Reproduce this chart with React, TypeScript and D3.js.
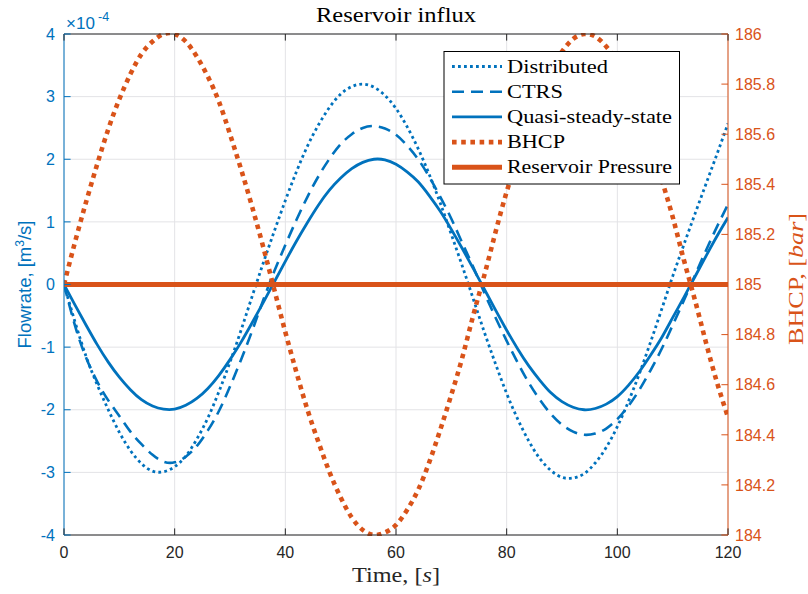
import React from 'react';
import * as d3 from 'd3';

// ---- data ----
const timeS = [0, 2, 4, 6, 8, 10, 12, 14, 16, 18, 20, 22, 24, 26, 28, 30, 32, 34, 36, 38, 40,
  42, 44, 46, 48, 50, 52, 54, 56, 58, 60, 62, 64, 66, 68, 70, 72, 74, 76, 78, 80,
  82, 84, 86, 88, 90, 92, 94, 96, 98, 100, 102, 104, 106, 108, 110, 112, 114, 116, 118, 120];

// flow rates in units of 1e-4 m^3/s
const distributed = [0, -0.6, -1.15, -1.6, -2.0, -2.36, -2.65, -2.86, -2.98, -2.99, -2.91,
  -2.74, -2.47, -2.13, -1.71, -1.24, -0.73, -0.19, 0.34, 0.85, 1.34,
  1.8, 2.21, 2.55, 2.83, 3.04, 3.16, 3.2, 3.15, 3.02, 2.81,
  2.52, 2.17, 1.76, 1.3, 0.8, 0.29, -0.24, -0.77, -1.27, -1.74,
  -2.15, -2.5, -2.78, -2.97, -3.08, -3.09, -3.02, -2.85, -2.6, -2.27,
  -1.87, -1.42, -0.92, -0.4, 0.13, 0.63, 1.12, 1.6, 2.08, 2.57];

const ctrs = [0, -0.66, -1.17, -1.55, -1.85, -2.1, -2.35, -2.55, -2.72, -2.83, -2.84,
  -2.75, -2.58, -2.33, -2.02, -1.63, -1.2, -0.74, -0.25, 0.21, 0.63,
  1.03, 1.4, 1.73, 2.01, 2.24, 2.4, 2.5, 2.53, 2.49, 2.39,
  2.22, 2.0, 1.72, 1.4, 1.05, 0.66, 0.27, -0.14, -0.53, -0.9,
  -1.25, -1.57, -1.84, -2.07, -2.24, -2.35, -2.4, -2.38, -2.3, -2.15,
  -1.94, -1.68, -1.37, -1.03, -0.65, -0.26, 0.14, 0.54, 0.92, 1.28];

const quasiSteady = [0, -0.33, -0.65, -0.96, -1.24, -1.48, -1.68, -1.84, -1.94, -1.99, -1.99,
  -1.93, -1.82, -1.66, -1.45, -1.2, -0.92, -0.61, -0.29, 0.04, 0.37,
  0.69, 0.99, 1.27, 1.51, 1.7, 1.85, 1.95, 2.0, 1.99, 1.92,
  1.8, 1.64, 1.42, 1.17, 0.88, 0.57, 0.25, -0.08, -0.41, -0.73,
  -1.03, -1.3, -1.53, -1.73, -1.87, -1.96, -2.0, -1.98, -1.91, -1.79,
  -1.61, -1.39, -1.13, -0.85, -0.53, -0.21, 0.12, 0.45, 0.77, 1.07];

// bottom-hole circulating pressure, bar
const bhcp = [185.0, 185.17, 185.33, 185.48, 185.62, 185.74, 185.84, 185.92, 185.97, 186.0, 186.0,
  185.97, 185.91, 185.83, 185.73, 185.6, 185.46, 185.31, 185.15, 184.98, 184.81,
  184.65, 184.5, 184.37, 184.25, 184.15, 184.07, 184.02, 184.0, 184.01, 184.04,
  184.1, 184.18, 184.29, 184.42, 184.56, 184.71, 184.88, 185.04, 185.21, 185.37,
  185.51, 185.65, 185.77, 185.86, 185.93, 185.98, 186.0, 185.99, 185.95, 185.89,
  185.81, 185.7, 185.57, 185.42, 185.27, 185.1, 184.94, 184.77, 184.61, 184.47];

const reservoirTime = [0, 120];
const reservoirPressure = [185, 185];

const xTicks = [0, 20, 40, 60, 80, 100, 120];
const leftTicks = [-4, -3, -2, -1, 0, 1, 2, 3, 4];
const rightTicks = [184, 184.2, 184.4, 184.6, 184.8, 185, 185.2, 185.4, 185.6, 185.8, 186];
const rightTickLabels = ['184', '184.2', '184.4', '184.6', '184.8', '185', '185.2', '185.4', '185.6', '185.8', '186'];
const legendLabels = ['Distributed', 'CTRS', 'Quasi-steady-state', 'BHCP', 'Reservoir Pressure'];

const BLUE = '#0072BD';
const ORANGE = '#D95319';
const DARK = '#262626';
const GRID = '#e3e3e6';
const SANS = '"Liberation Sans", Arial, Helvetica, sans-serif';
const SERIF = '"Liberation Serif", "Times New Roman", serif';

export default function App() {
  const W = 808, H = 594;
  const L = 64, R = 728, T = 34, B = 535;
  const x = d3.scaleLinear().domain([0, 120]).range([L, R]);
  const yL = d3.scaleLinear().domain([-4, 4]).range([B, T]);
  const yR = d3.scaleLinear().domain([184, 186]).range([B, T]);

  const lineL = d3.line<number>().x((_, i) => x(timeS[i])).y(d => yL(d)).curve(d3.curveNatural);
  const lineR = d3.line<number>().x((_, i) => x(timeS[i])).y(d => yR(d)).curve(d3.curveNatural);
  const lineRes = d3.line<number>().x((_, i) => x(reservoirTime[i])).y(d => yR(d));

  const styles = [
    { color: BLUE, width: 2.8, dash: '2.8 3.2' },
    { color: BLUE, width: 2.6, dash: '12 7' },
    { color: BLUE, width: 2.8, dash: undefined },
    { color: ORANGE, width: 4.6, dash: '4.6 4.6' },
    { color: ORANGE, width: 5, dash: undefined },
  ];

  const tickLen = 6.6;
  const legX = 444, legY = 51.5, legW = 235.5, legH = 132.5;
  const rowY = (i: number) => 66.5 + i * 25.2;
  const legTextLen = [101, 56, 165, 58, 165];

  return (
    <svg width={W} height={H} style={{ position: 'absolute', left: 0, top: 0, background: '#fff' }}>
      <defs>
        <clipPath id="plotClip">
          <rect x={L} y={T - 1} width={R - L} height={B - T + 2} />
        </clipPath>
      </defs>
      <rect x={0} y={0} width={W} height={H} fill="#fff" />
      <rect x={L} y={T} width={R - L} height={B - T} fill="#fff" />
      {/* grid */}
      {xTicks.map(t => (
        <line key={'gx' + t} x1={x(t)} x2={x(t)} y1={T} y2={B} stroke={GRID} strokeWidth={1} />
      ))}
      {leftTicks.map(t => (
        <line key={'gy' + t} x1={L} x2={R} y1={yL(t)} y2={yL(t)} stroke={GRID} strokeWidth={1} />
      ))}

      {/* data */}
      <g clipPath="url(#plotClip)" fill="none">
        {[distributed, ctrs, quasiSteady].map((s, i) => (
          <path key={'l' + i} d={lineL(s) || ''} stroke={styles[i].color} strokeWidth={styles[i].width}
            strokeDasharray={styles[i].dash} strokeLinejoin="round" />
        ))}
        <path d={lineR(bhcp) || ''} stroke={ORANGE} strokeWidth={styles[3].width} strokeDasharray={styles[3].dash} />
        <path d={lineRes(reservoirPressure) || ''} stroke={ORANGE} strokeWidth={styles[4].width} />
      </g>

      {/* box / axes */}
      <line x1={L} x2={R} y1={T} y2={T} stroke={DARK} strokeWidth={1} />
      <line x1={L} x2={R} y1={B} y2={B} stroke={DARK} strokeWidth={1} />
      <line x1={L} x2={L} y1={T} y2={B} stroke={BLUE} strokeWidth={1} />
      <line x1={R} x2={R} y1={T} y2={B} stroke={ORANGE} strokeWidth={1} />
      {xTicks.map(t => (
        <g key={'xt' + t}>
          <line x1={x(t)} x2={x(t)} y1={B} y2={B - tickLen} stroke={DARK} strokeWidth={1} />
          <line x1={x(t)} x2={x(t)} y1={T} y2={T + tickLen} stroke={DARK} strokeWidth={1} />
          <text x={x(t)} y={558} textAnchor="middle" fontFamily={SANS} fontSize={16} fill={DARK}>{t}</text>
        </g>
      ))}
      {leftTicks.map(t => (
        <g key={'lt' + t}>
          <line x1={L} x2={L + tickLen} y1={yL(t)} y2={yL(t)} stroke={BLUE} strokeWidth={1} />
          <text x={55} y={yL(t) + 5.7} textAnchor="end" fontFamily={SANS} fontSize={16} fill={BLUE}>{t}</text>
        </g>
      ))}
      {rightTicks.map((t, i) => (
        <g key={'rt' + t}>
          <line x1={R} x2={R - tickLen} y1={yR(t)} y2={yR(t)} stroke={ORANGE} strokeWidth={1} />
          <text x={735} y={yR(t) + 5.7} textAnchor="start" fontFamily={SANS} fontSize={16} fill={ORANGE}>{rightTickLabels[i]}</text>
        </g>
      ))}

      {/* exponent */}
      <text x={66} y={28.5} fontFamily={SANS} fontSize={17} fill={BLUE}>×10</text>
      <text x={98} y={20.5} fontFamily={SANS} fontSize={12.5} fill={BLUE}>-4</text>

      {/* title & labels */}
      <text x={(L + R) / 2} y={22} textAnchor="middle" fontFamily={SERIF} fontSize={21} fill="#000"
        textLength={160} lengthAdjust="spacingAndGlyphs">Reservoir influx</text>
      <text x={(L + R) / 2} y={582} textAnchor="middle" fontFamily={SERIF} fontSize={22} fill={DARK}
        textLength={88} lengthAdjust="spacingAndGlyphs">Time, [<tspan fontStyle="italic">s</tspan>]</text>
      <text transform={`translate(31,${(T + B) / 2}) rotate(-90)`} textAnchor="middle" fontFamily={SANS}
        fontSize={18.5} fill={BLUE}>Flowrate, [m<tspan fontSize={12} dy={-7}>3</tspan><tspan dy={7}>/s]</tspan></text>
      <text transform={`translate(803,279) rotate(-90)`} textAnchor="middle" fontFamily={SERIF}
        fontSize={22} fill={ORANGE} textLength={132} lengthAdjust="spacingAndGlyphs">BHCP, [<tspan fontStyle="italic">bar</tspan>]</text>

      {/* legend */}
      <rect x={legX} y={legY} width={legW} height={legH} fill="#fff" stroke="#000" strokeWidth={1} />
      {legendLabels.map((lab, i) => (
        <g key={'lg' + i}>
          <line x1={452} x2={502} y1={rowY(i)} y2={rowY(i)} stroke={styles[i].color}
            strokeWidth={styles[i].width} strokeDasharray={styles[i].dash} />
          <text x={507} y={rowY(i) + 6} fontFamily={SERIF} fontSize={19.5} fill="#000"
            textLength={legTextLen[i]} lengthAdjust="spacingAndGlyphs">{lab}</text>
        </g>
      ))}
    </svg>
  );
}
